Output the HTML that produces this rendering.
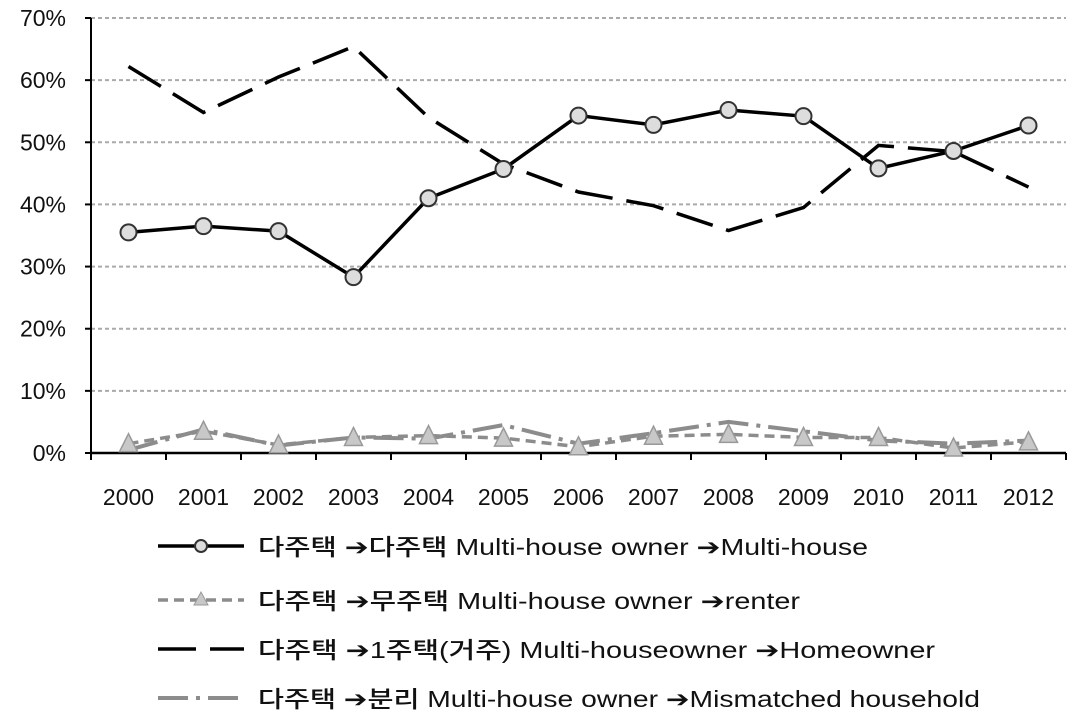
<!DOCTYPE html>
<html><head><meta charset="utf-8"><style>
body{margin:0;background:#fff;width:1083px;height:718px;overflow:hidden;font-family:"Liberation Sans","Noto Sans CJK KR",sans-serif}
svg text{font-family:"Liberation Sans","Noto Sans CJK KR",sans-serif}
</style></head><body>
<svg id="c" width="1083" height="718"></svg>
<script>
const years=["2000","2001","2002","2003","2004","2005","2006","2007","2008","2009","2010","2011","2012"];
const multiHouse=[35.5,36.5,35.7,28.3,41,45.7,54.3,52.8,55.2,54.2,45.8,48.6,52.7];
const renter=[1.5,3.5,1.3,2.5,2.8,2.4,1.0,2.7,3.0,2.5,2.5,0.8,1.8];
const homeowner=[62.2,54.8,60.5,65.4,54,46.5,42,39.8,35.8,39.5,49.5,48.5,42.8];
const mismatched=[0.5,3.8,1.2,2.5,2.3,4.5,1.5,3.2,5.0,3.5,2.0,1.5,2.0];
const yTicks=[0,10,20,30,40,50,60,70];
const legendLabels=["다주택 ➔다주택 Multi-house owner ➔Multi-house","다주택 ➔무주택 Multi-house owner ➔renter","다주택 ➔1주택(거주) Multi-houseowner  ➔Homeowner","다주택 ➔분리  Multi-house owner ➔Mismatched household"];
const NS="http://www.w3.org/2000/svg",svg=document.getElementById('c');
const L=91,R=1066,T=18,B=453,band=(R-L)/years.length;
const x=i=>L+band*(i+0.5), y=v=>B-(v/70)*(B-T);
function mk(t,a,p){const e=document.createElementNS(NS,t);for(const k in a)e.setAttribute(k,a[k]);(p||svg).appendChild(e);return e;}
yTicks.forEach(v=>{
 if(v>0){const g=mk('line',{x1:L,x2:R,y1:y(v),y2:y(v),stroke:'#aaa','stroke-width':2,'stroke-dasharray':'4 3'});
 
 }
 mk('line',{x1:L-6,x2:L,y1:y(v),y2:y(v),stroke:'#000','stroke-width':2});
 const t=mk('text',{x:L-25,y:y(v)+8,'text-anchor':'end','font-size':23,'font-weight':500,fill:'#111'});t.textContent=v+'%';
 
 
});
mk('line',{x1:L,x2:L,y1:T,y2:B,stroke:'#000','stroke-width':2});
mk('line',{x1:L,x2:R,y1:B,y2:B,stroke:'#000','stroke-width':2.5});
for(let i=0;i<=years.length;i++)mk('line',{x1:L+band*i,x2:L+band*i,y1:B,y2:B+7,stroke:'#000','stroke-width':2});
years.forEach((yr,i)=>{const t=mk('text',{x:x(i),y:505,'text-anchor':'middle','font-size':23,fill:'#111'});t.textContent=yr;
 
 });
function line(data,st,name){const p=mk('polyline',Object.assign({points:data.map((v,i)=>x(i)+','+y(v)).join(' '),fill:'none'},st));
 
 }
line(mismatched,{stroke:'#8c8c8c','stroke-width':4,'stroke-dasharray':'30 8 4 8'},'series-mismatched');
line(renter,{stroke:'#8c8c8c','stroke-width':3.5,'stroke-dasharray':'10 6'},'series-renter');
renter.forEach((v,i)=>{const p=mk('polygon',{points:`${x(i)},${y(v)-10} ${x(i)-9},${y(v)+8} ${x(i)+9},${y(v)+8}`,fill:'#c8c8c8',stroke:'#999','stroke-width':1.5});
 
 });
line(homeowner,{stroke:'#000','stroke-width':3.5,'stroke-dasharray':'38 14'},'series-homeowner');
line(multiHouse,{stroke:'#000','stroke-width':3.5},'series-multi-house');
multiHouse.forEach((v,i)=>{const c=mk('circle',{cx:x(i),cy:y(v),r:8,fill:'#ddd',stroke:'#333','stroke-width':2});
 
 });
const ly=[546,600,649,698];
const lw=[610,542,677,722];
const lstyles=[{stroke:'#000','stroke-width':3.5},{stroke:'#8c8c8c','stroke-width':3.5,'stroke-dasharray':'10 6'},{stroke:'#000','stroke-width':3.5,'stroke-dasharray':'38 14'},{stroke:'#8c8c8c','stroke-width':4,'stroke-dasharray':'30 8 4 8'}];
legendLabels.forEach((lab,k)=>{const g=mk('g',{});
 
 
 mk('line',Object.assign({x1:158,x2:244,y1:ly[k],y2:ly[k]},lstyles[k]),g);
 if(k==0)mk('circle',{cx:201,cy:ly[k],r:6,fill:'#ddd',stroke:'#333','stroke-width':2},g);
 if(k==1)mk('polygon',{points:`201,${ly[k]-8} 194,${ly[k]+5} 208,${ly[k]+5}`,fill:'#c8c8c8',stroke:'#999'},g);
 const t=mk('text',{x:258,y:ly[k]+9,'font-size':23,'font-weight':500,fill:'#111','xml:space':'preserve',textLength:lw[k],lengthAdjust:'spacingAndGlyphs'},g);t.textContent=lab;});
</script>
</body></html>
